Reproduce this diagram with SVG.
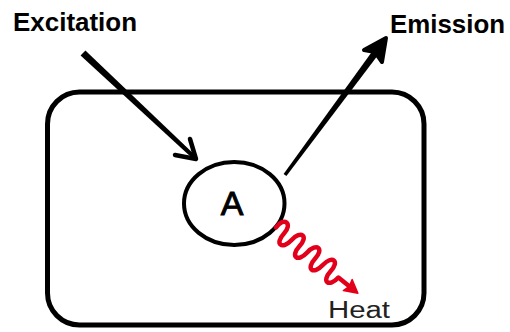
<svg xmlns="http://www.w3.org/2000/svg" width="510" height="332" viewBox="0 0 510 332">
  <style>
    text { font-family: "Liberation Sans", Arial, sans-serif; }
    .lbl { font-weight: bold; font-size: 26px; fill: #000; }
    .blk { fill: #000; }
    .head { fill: none; stroke: #000; stroke-linecap: round; stroke-linejoin: round; }
    .red { fill: none; stroke: #e2001a; stroke-width: 4.5; stroke-linecap: round; stroke-linejoin: round; }
  </style>
  <rect width="510" height="332" fill="#fff"/>
  <g id="box">
    <rect x="47.5" y="92" width="376.5" height="233" rx="32" ry="32" fill="none" stroke="#000" stroke-width="5"/>
  </g>
  <g id="atom">
    <ellipse cx="234.25" cy="203.5" rx="50.25" ry="41.5" fill="#fff" stroke="#000" stroke-width="4"/>
    <text x="232" y="215" font-size="34" text-anchor="middle" fill="#000" stroke="#000" stroke-width="0.9">A</text>
  </g>
  <g id="excitation">
    <text class="lbl" x="13" y="31" textLength="124" lengthAdjust="spacingAndGlyphs">Excitation</text>
  </g>
  <g id="emission">
    <text class="lbl" x="390" y="33" textLength="115" lengthAdjust="spacingAndGlyphs">Emission</text>
  </g>
  <g id="heat">
    <text x="328" y="318" font-size="23" fill="#222" textLength="62" lengthAdjust="spacingAndGlyphs">Heat</text>
  </g>
  <g id="connectors">
    <!-- Excitation arrow -->
    <polygon class="blk" points="85.4,50.4 195.4,155.5 192.6,158.5 80.6,55.6"/>
    <polyline class="head" stroke-width="4.5" points="190,139 196,159 175,155"/>
    <!-- Emission arrow -->
    <polygon class="blk" points="283.6,173.9 373.2,49.9 378.8,54.1 286.4,176.1"/>
    <path class="blk" d="M386,38 L364,50 L375,52 L382,62 Z" stroke="#000" stroke-width="4" stroke-linejoin="round"/>
    <!-- Heat wavy arrow -->
    <g transform="translate(276,227.5) rotate(38.75)">
      <path class="red" d="M0,0 C-1,-14 11,-14 10,0 S19,14 20,0 S31,-14 30,0 S39,14 40,0 S51,-14 50,0 S59,14 60,0 S71,-14 70,0 S79,14 80,0 L96,0"/>
      <polygon points="105,0 92,-7 94,0 92,7" fill="#e2001a" stroke="#e2001a" stroke-width="1.5" stroke-linejoin="round"/>
    </g>
  </g>
</svg>
